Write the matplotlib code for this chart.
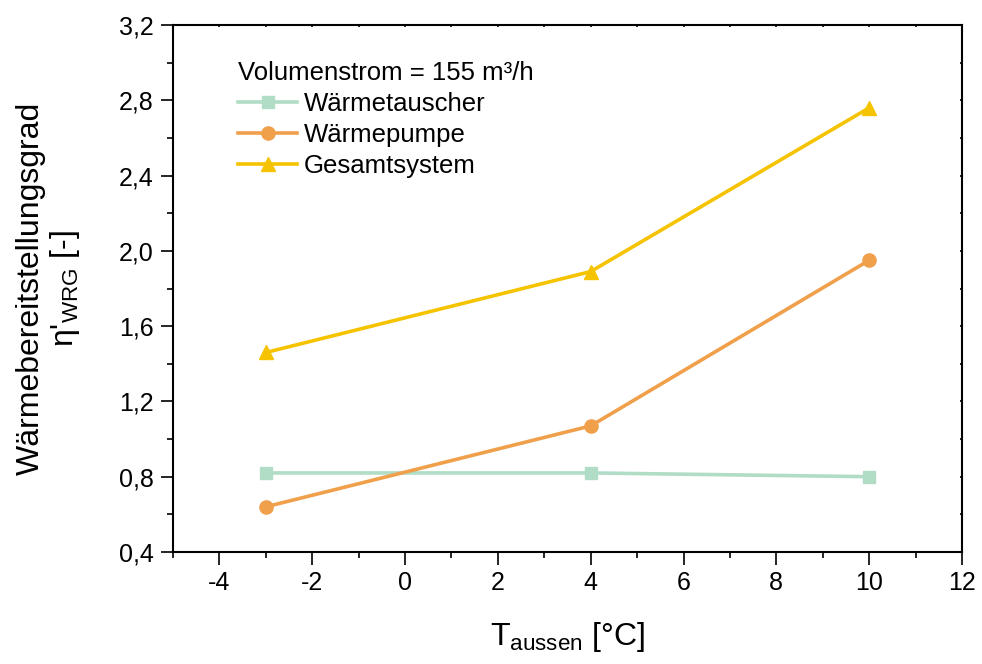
import matplotlib
matplotlib.use("Agg")
from matplotlib import pyplot as plt
from matplotlib.ticker import MultipleLocator, FuncFormatter

plt.rcParams['font.family'] = ['Liberation Sans', 'DejaVu Sans']
plt.rcParams['mathtext.fontset'] = 'custom'
plt.rcParams['mathtext.rm'] = 'Liberation Sans'
plt.rcParams['mathtext.it'] = 'Liberation Sans:italic'
plt.rcParams['axes.unicode_minus'] = False

t_aussen = [-3, 4, 10]
waermetauscher = [0.82, 0.82, 0.80]
waermepumpe = [0.64, 1.07, 1.95]
gesamtsystem = [1.46, 1.89, 2.76]

series = [
    ("Wärmetauscher", waermetauscher, "#b1dcc5", "s", 8.5),
    ("Wärmepumpe", waermepumpe, "#f0a04b", "o", 9.5),
    ("Gesamtsystem", gesamtsystem, "#f5c300", "^", 10),
]

fig = plt.figure(figsize=(9.82, 6.64), dpi=100)
ax = fig.add_axes([0.1762, 0.1687, 0.8034, 0.7936])

for name, vals, color, marker, ms in series:
    ax.plot(t_aussen, vals, color=color, lw=2.6, marker=marker, ms=ms, label=name)

ax.set_xlim(-5, 12)
ax.set_ylim(0.4, 3.2)
ax.xaxis.set_major_locator(MultipleLocator(2))
ax.xaxis.set_minor_locator(MultipleLocator(1))
ax.yaxis.set_major_locator(MultipleLocator(0.4))
ax.yaxis.set_minor_locator(MultipleLocator(0.2))
ax.yaxis.set_major_formatter(FuncFormatter(lambda v, p: f"{v:.1f}".replace(".", ",")))

for s in ax.spines.values():
    s.set_linewidth(1.5)
ax.tick_params(which='major', direction='out', length=9, width=1.2, labelsize=18, pad=5)
ax.tick_params(which='minor', direction='out', length=4.5, width=1.2)
# tiny inward marks on the top and right spines
ax.tick_params(which='both', top=True, right=True, labeltop=False, labelright=False)
for tick in ax.xaxis.get_major_ticks() + ax.xaxis.get_minor_ticks():
    tick.tick2line.set_markersize(1.5)
    tick.tick2line.set_marker(3)
for tick in ax.yaxis.get_major_ticks() + ax.yaxis.get_minor_ticks():
    tick.tick2line.set_markersize(1.5)
    tick.tick2line.set_marker(0)

ax.set_xlabel(r"T$_{\mathrm{aussen}}$ [°C]", fontsize=23)
ax.xaxis.set_label_coords(0.5, -0.13)
ax.set_ylabel("Wärmebereitstellungsgrad\n" + r"η'$_{\mathrm{WRG}}$ [-]", fontsize=23,
              linespacing=1.05)
ax.yaxis.set_label_coords(-0.116, 0.5)

leg = ax.legend(title="Volumenstrom = 155 m³/h", loc='upper left',
                bbox_to_anchor=(0.0825, 0.932), frameon=False, fontsize=18.5,
                title_fontsize=18.5, handlelength=2.3, handletextpad=0.25,
                labelspacing=0.27, borderaxespad=0, borderpad=0)
leg._legend_box.align = "left"

fig.savefig("out.png", dpi=100)
